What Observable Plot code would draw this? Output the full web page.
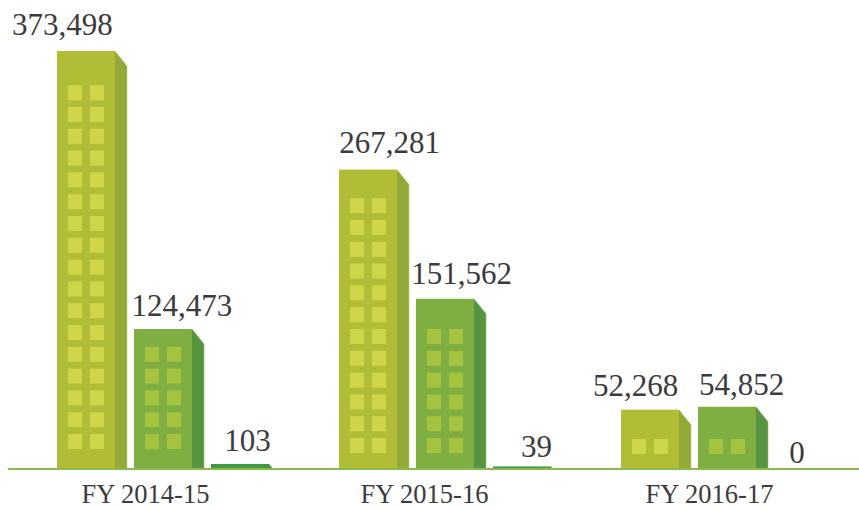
<!DOCTYPE html>
<html>
<head>
<meta charset="utf-8">
<script src="https://cdn.jsdelivr.net/npm/d3@7"></script>
<script src="https://cdn.jsdelivr.net/npm/@observablehq/plot@0.6"></script>
<style>
html,body{margin:0;padding:0;background:#fff}
svg{display:block}
</style>
</head>
<body>
<div id="chart"></div>
<script>
// Data
const years = ["FY 2014-15", "FY 2015-16", "FY 2016-17"];
const towers = ["first", "second", "third"];
const firstValues = [373498, 267281, 52268];
const secondValues = [124473, 151562, 54852];
const thirdValues = [103, 39, 0];
// Floors of lit windows on each building, by year
const firstWindowRows = [17, 12, 1];
const secondWindowRows = [5, 6, 1];
const thirdWindowRows = [0, 0, 0];

// Look
const frontColors = {first: "#b2bd37", second: "#7fae42", third: "#3f9a42"};
const sideColors = {first: "#92a938", second: "#569440", third: "#3f9a42"};
const edgeColors = {first: "#c2d574", second: "#8cc070", third: "#8cc070"};
const windowColors = {first: "#cfd548", second: "#a6c33f", third: "#a6c33f"};
const inkColor = "#3b3a3c";
const serif = "'Liberation Serif', serif";
const labelSize = 31;
const axisSize = 26.5;
const thirdStubFactor = 35;       // the small third tower is drawn as a visible stub
const unitsPerPixel = 895.7;
const windowFloor = 21.8 * unitsPerPixel;
const windowPane = 15 * unitsPerPixel;
const windowSill = {"FY 2014-15": 19 * unitsPerPixel, "FY 2015-16": 15 * unitsPerPixel, "FY 2016-17": 14 * unitsPerPixel};
// Hand placement of the labels, as in the reference
const labelDx = [[-30, 12.5, 1], [15, 10, 8], [-21, 8, -13.5]];
const labelGap = [[16, 14, 13], [17, 15, 10], [14, 12, 6]];
const yearDx = [-24, -27, -24];

const seriesValues = {first: firstValues, second: secondValues, third: thirdValues};
const seriesRows = {first: firstWindowRows, second: secondWindowRows, third: thirdWindowRows};

const rows = years.flatMap((year, g) => towers.map((tower, s) => ({
  year, tower, g, s,
  value: seriesValues[tower][g],
  shown: tower === "third" ? seriesValues[tower][g] * thirdStubFactor : seriesValues[tower][g]
})));

const panes = rows.flatMap(r => d3.range(seriesRows[r.tower][r.g]).map(i => ({
  year: r.year, tower: r.tower,
  y1: windowSill[r.year] + i * windowFloor,
  y2: windowSill[r.year] + i * windowFloor + windowPane
})));

const frontWidth = 58, sideWidth = 12, slope = 15 / 12;

function sideFaces(index, scales, values) {
  const g = d3.create("svg:g");
  for (const i of index) {
    const top = values.y2[i], base = values.y1[i];
    const h = base - top;
    if (h <= 0) continue;
    const w = Math.min(sideWidth, h / slope);
    const x0 = values.x[i] + frontWidth, x1 = x0 + w;
    const topR = top + w * slope;
    g.append("path")
      .attr("d", `M${x0},${top}L${x1},${topR}L${x1},${base}L${x0},${base}Z`)
      .attr("fill", sideColors[rows[i].tower]);
    g.append("path")
      .attr("d", `M${x0},${top}L${x1},${topR}L${x1},${base}`)
      .attr("fill", "none")
      .attr("stroke", edgeColors[rows[i].tower])
      .attr("stroke-width", 0.6);
  }
  return g.node();
}

const windowColumn = (left) => Plot.barY(panes, {
  fx: "year", x: "tower", y1: "y1", y2: "y2",
  fill: d => windowColors[d.tower],
  insetLeft: left, insetRight: 70 - left - 14
});

const chart = Plot.plot({
  width: 859,
  height: 510,
  marginLeft: 57,
  marginRight: 14,
  marginTop: 0,
  marginBottom: 42,
  style: {background: "#fff", fontFamily: serif, color: inkColor},
  fx: {domain: years, paddingInner: 0.2057, paddingOuter: 0, round: false, axis: null, label: null},
  x: {domain: towers, paddingInner: 0.0909, paddingOuter: 0, round: false, axis: null, label: null},
  y: {domain: [0, 419170], axis: null, label: null},
  marks: [
    Plot.barY(rows, {
      fx: "year", x: "tower", y1: 0, y2: "shown",
      render: sideFaces
    }),
    Plot.barY(rows, {
      fx: "year", x: "tower", y1: 0, y2: "shown",
      fill: d => frontColors[d.tower],
      insetRight: sideWidth
    }),
    windowColumn(11),
    windowColumn(33),
    Plot.ruleY([0], {
      stroke: "#8aba4e", strokeWidth: 2, dy: 0.5,
      insetLeft: -49, insetRight: -58
    }),
    ...rows.map(r => Plot.text([r], {
      fx: "year", x: "tower", y: "shown",
      text: d => d3.format(",")(d.value),
      dx: labelDx[r.g][r.s],
      dy: -labelGap[r.g][r.s],
      lineAnchor: "bottom",
      fontSize: labelSize,
      fontFamily: serif,
      fill: inkColor
    })),
    ...years.map((year, g) => Plot.text([year], {
      fx: d => d,
      text: d => d,
      frameAnchor: "bottom",
      lineAnchor: "bottom",
      dx: yearDx[g],
      dy: 34,
      fontSize: axisSize,
      fontFamily: serif,
      fill: inkColor
    }))
  ]
});
document.getElementById("chart").appendChild(chart);
</script>
</body>
</html>
